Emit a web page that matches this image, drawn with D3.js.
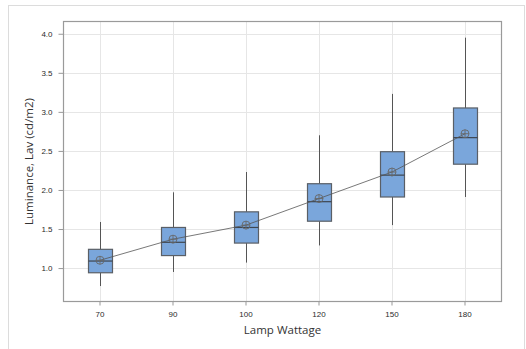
<!DOCTYPE html>
<html>
<head>
<meta charset="utf-8">
<script src="https://cdn.jsdelivr.net/npm/d3@7"></script>
<style>
    body { margin: 0; background: #fff; }
    svg { display: block; font-family: "Open Sans", "Noto Sans", sans-serif; }
</style>
</head>
<body>
<div id="chart"></div>
<script>
// data
const categories = ['70', '90', '100', '120', '150', '180'];
const whiskerLow = [0.77, 0.95, 1.07, 1.29, 1.55, 1.91];
const q1 = [0.94, 1.16, 1.32, 1.60, 1.91, 2.33];
const median = [1.09, 1.33, 1.52, 1.85, 2.19, 2.67];
const q3 = [1.24, 1.52, 1.72, 2.08, 2.49, 3.05];
const whiskerHigh = [1.59, 1.97, 2.23, 2.70, 3.23, 3.95];
const means = [1.10, 1.37, 1.55, 1.89, 2.23, 2.72];
const yTicks = [1.0, 1.5, 2.0, 2.5, 3.0, 3.5, 4.0];

const width = 526;
const height = 349;

const svg = d3.select('#chart')
    .append('svg')
    .attr('width', width)
    .attr('height', height);

// outer frame
svg.append('rect')
    .attr('x', 8.5).attr('y', 5.5)
    .attr('width', 516).attr('height', 360)
    .attr('fill', 'none')
    .attr('stroke', '#dcdcdc');

// plot area
const plot = { left: 63.5, top: 21.5, right: 501.5, bottom: 301.5 };

const x = d3.scaleBand()
    .domain(categories)
    .range([plot.left, plot.right]);

const y = d3.scaleLinear()
    .domain([0.572, 4.157])
    .range([plot.bottom, plot.top]);

const rows = categories.map((c, i) => ({
    cat: c,
    lo: whiskerLow[i], q1: q1[i], med: median[i], q3: q3[i], hi: whiskerHigh[i], mean: means[i]
}));

// gridlines
const grid = svg.append('g').classed('grid', true);
grid.selectAll('.hgrid').data(yTicks).enter()
    .append('line')
    .attr('x1', plot.left).attr('x2', plot.right)
    .attr('y1', d => Math.round(y(d)) + 0.5).attr('y2', d => Math.round(y(d)) + 0.5)
    .attr('stroke', '#e6e6e6');
grid.selectAll('.vgrid').data(categories).enter()
    .append('line')
    .attr('x1', d => Math.round(x(d) + x.bandwidth() / 2) + 0.5)
    .attr('x2', d => Math.round(x(d) + x.bandwidth() / 2) + 0.5)
    .attr('y1', plot.top).attr('y2', plot.bottom)
    .attr('stroke', '#e6e6e6');

// axes
const yAxis = d3.axisLeft(y).tickValues(yTicks).tickFormat(d3.format('.1f'))
    .tickSize(5).tickPadding(6).tickSizeOuter(0);
const yAxisGroup = svg.append('g')
    .attr('transform', `translate(${plot.left},0)`)
    .call(yAxis);

const xAxis = d3.axisBottom(x).tickSize(4).tickPadding(6).tickSizeOuter(0);
const xAxisGroup = svg.append('g')
    .attr('transform', `translate(0,${plot.bottom})`)
    .call(xAxis);

[yAxisGroup, xAxisGroup].forEach(g => {
    g.select('.domain').remove();
    g.selectAll('line').attr('stroke', '#999');
    g.selectAll('text').attr('fill', '#2b2b2b').style('font-size', '8px');
});

// plot frame
svg.append('rect')
    .attr('x', plot.left).attr('y', plot.top)
    .attr('width', plot.right - plot.left).attr('height', plot.bottom - plot.top)
    .attr('fill', 'none')
    .attr('stroke', '#9a9a9a')
    .attr('stroke-width', 1.2);

// boxes
const boxW = 24;
const boxes = svg.append('g').selectAll('.box').data(rows).enter()
    .append('g')
    .classed('box', true)
    .attr('transform', d => `translate(${Math.round(x(d.cat) + x.bandwidth() / 2) + 0.5},0)`);

boxes.append('line')
    .attr('y1', d => y(d.hi)).attr('y2', d => y(d.q3))
    .attr('stroke', '#555');
boxes.append('line')
    .attr('y1', d => y(d.q1)).attr('y2', d => y(d.lo))
    .attr('stroke', '#555');
boxes.append('rect')
    .attr('x', -boxW / 2).attr('width', boxW)
    .attr('y', d => y(d.q3))
    .attr('height', d => y(d.q1) - y(d.q3))
    .attr('fill', '#7aa6db')
    .attr('stroke', '#5a5f66')
    .attr('stroke-width', 1.2);
boxes.append('line')
    .attr('x1', -boxW / 2).attr('x2', boxW / 2)
    .attr('y1', d => y(d.med)).attr('y2', d => y(d.med))
    .attr('stroke', '#3e4650')
    .attr('stroke-width', 1.2);

// mean connect line
const meanLine = d3.line()
    .x(d => x(d.cat) + x.bandwidth() / 2)
    .y(d => y(d.mean));
svg.append('path')
    .datum(rows)
    .attr('d', meanLine)
    .attr('fill', 'none')
    .attr('stroke', '#555')
    .attr('stroke-width', 0.8);

// mean symbols
const meanSym = svg.append('g').selectAll('.mean').data(rows).enter()
    .append('g')
    .attr('transform', d => `translate(${x(d.cat) + x.bandwidth() / 2},${y(d.mean)})`);
meanSym.append('circle')
    .attr('r', 4)
    .attr('fill', 'none')
    .attr('stroke', '#666')
    .attr('stroke-width', 0.9);
meanSym.append('path')
    .attr('d', 'M-4,0H4M0,-4V4')
    .attr('stroke', '#666')
    .attr('stroke-width', 0.9);

// axis titles
svg.append('text')
    .attr('x', (plot.left + plot.right) / 2)
    .attr('y', 334)
    .attr('text-anchor', 'middle')
    .attr('fill', '#333')
    .style('font-size', '11.5px')
    .text('Lamp Wattage');

svg.append('text')
    .attr('transform', `translate(33,${(plot.top + plot.bottom) / 2}) rotate(-90)`)
    .attr('text-anchor', 'middle')
    .attr('fill', '#333')
    .style('font-size', '11.5px')
    .text('Luminance, Lav (cd/m2)');
</script>
</body>
</html>
